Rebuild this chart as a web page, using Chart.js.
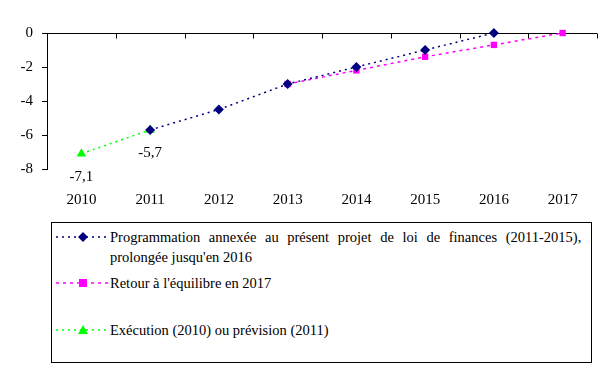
<!DOCTYPE html>
<html>
<head>
<meta charset="utf-8">
<script src="https://cdn.jsdelivr.net/npm/chart.js@4/dist/chart.umd.min.js"></script>
<style>
    body { margin: 0; background: #fff; }
    #wrap { position: relative; width: 616px; height: 374px; }
    #chart { position: absolute; left: 0; top: 0; }
    #legend {
        position: absolute; left: 51px; top: 222px; width: 539px; height: 139px;
        border: 1px solid #000; font-family: 'Times New Roman', Times, 'Liberation Serif', serif;
        font-size: 14.5px; color: #000;
    }
    .item { position: absolute; left: 0; width: 539px; }
    .item svg { position: absolute; left: 4px; }
    .item .label { position: absolute; left: 58px; line-height: 20px; white-space: nowrap; }
    .wide { word-spacing: 5px; }
</style>
</head>
<body>
<div id="wrap">
    <canvas id="chart" width="616" height="215"></canvas>
    <div id="legend"></div>
</div>
<script>
// Categories (years)
const years = ['2010', '2011', '2012', '2013', '2014', '2015', '2016', '2017'];

// Series values (% du PIB)
const programmation = [null, -5.7, -4.5, -3.0, -2.0, -1.0, 0, null];
const retour = [null, null, null, -3.0, -2.2, -1.4, -0.7, 0];
const execution = [-7.1, -5.7, null, null, null, null, null, null];

// Labels shown under the green points
const executionLabels = ['-7,1', '-5,7'];

// Y axis ticks
const yMin = -8;
const yMax = 0;
const yStep = 2;

const serif = "'Times New Roman', Times, 'Liberation Serif', serif";

// Draws the axis line at y = 0 with small ticks pointing down
const zeroAxisPlugin = {
    id: 'zeroAxis',
    beforeDatasetsDraw(chart) {
        const ctx = chart.ctx;
        const x = chart.scales.x;
        const y = chart.scales.y;
        const y0 = Math.round(y.getPixelForValue(0)) + 0.5;
        const step = (x.right - x.left) / years.length;
        ctx.save();
        ctx.strokeStyle = '#000';
        ctx.lineWidth = 1;
        ctx.beginPath();
        ctx.moveTo(x.left, y0);
        ctx.lineTo(x.right, y0);
        for (let i = 1; i <= years.length; i++) {
            const px = Math.round(x.left + i * step) + 0.5;
            ctx.moveTo(px, y0);
            ctx.lineTo(px, y0 + 5);
        }
        ctx.stroke();
        ctx.restore();
    }
};

// Value labels under the execution points
const valueLabelPlugin = {
    id: 'valueLabels',
    afterDatasetsDraw(chart) {
        const ctx = chart.ctx;
        const meta = chart.getDatasetMeta(2);
        ctx.save();
        ctx.font = '15px ' + serif;
        ctx.fillStyle = '#000';
        ctx.textAlign = 'center';
        ctx.textBaseline = 'middle';
        meta.data.slice(0, executionLabels.length).forEach((pt, i) => {
            ctx.fillText(executionLabels[i], pt.x, pt.y + 23);
        });
        ctx.restore();
    }
};

const chart = new Chart(document.getElementById('chart'), {
    type: 'line',
    data: {
        labels: years,
        datasets: [{
            label: "Programmation annexée au présent projet de loi de finances (2011-2015), prolongée jusqu'en 2016",
            data: programmation,
            borderColor: '#000080',
            backgroundColor: '#000080',
            borderWidth: 1.5,
            borderDash: [2, 4],
            pointStyle: 'rectRot',
            pointRadius: 5,
            pointBorderWidth: 0,
            clip: false
        }, {
            label: "Retour à l'équilibre en 2017",
            data: retour,
            borderColor: '#FF00FF',
            backgroundColor: '#FF00FF',
            borderWidth: 1.5,
            borderDash: [3, 4],
            pointStyle: 'rect',
            pointRadius: 4.5,
            pointBorderWidth: 0,
            clip: false
        }, {
            label: 'Exécution (2010) ou prévision (2011)',
            data: execution,
            borderColor: '#00FF00',
            backgroundColor: '#00FF00',
            borderWidth: 1.5,
            borderDash: [2, 4],
            pointStyle: 'triangle',
            pointRadius: 5.5,
            pointBorderWidth: 0,
            clip: false
        }]
    },
    options: {
        responsive: false,
        animation: false,
        spanGaps: false,
        layout: { padding: { top: 33, right: 19, left: 0, bottom: 0 } },
        plugins: {
            legend: { display: false },
            tooltip: { enabled: false }
        },
        scales: {
            x: {
                offset: true,
                grid: { display: false },
                border: { display: false },
                ticks: {
                    color: '#000',
                    font: { family: serif, size: 15 },
                    padding: 14,
                    maxRotation: 0
                },
                afterFit(scale) { scale.height = 46; }
            },
            y: {
                min: yMin,
                max: yMax,
                grid: {
                    drawOnChartArea: false,
                    color: '#000',
                    tickLength: 5
                },
                border: { color: '#000', width: 1 },
                ticks: {
                    stepSize: yStep,
                    color: '#000',
                    font: { family: serif, size: 15 },
                    padding: 9
                },
                afterFit(scale) { scale.width = 47; }
            }
        }
    },
    plugins: [zeroAxisPlugin, valueLabelPlugin]
});

// HTML legend built from the datasets
function buildLegend() {
    const legend = document.getElementById('legend');
    const rows = [
        { top: 4, text: "<span class=\"wide\">Programmation annexée au présent projet de loi de finances (2011-2015),</span><br>prolongée jusqu'en 2016" },
        { top: 50, text: "Retour à l'équilibre en 2017" },
        { top: 97, text: 'Exécution (2010) ou prévision (2011)' }
    ];
    chart.data.datasets.forEach((ds, i) => {
        const row = document.createElement('div');
        row.className = 'item';
        row.style.top = rows[i].top + 'px';
        let marker;
        if (ds.pointStyle === 'rectRot') {
            marker = `<polygon points="27,5 32,10 27,15 22,10" fill="${ds.borderColor}"/>`;
        } else if (ds.pointStyle === 'rect') {
            marker = `<rect x="23" y="6" width="8" height="8" fill="${ds.borderColor}"/>`;
        } else {
            marker = `<polygon points="27,5 32,14 22,14" fill="${ds.borderColor}"/>`;
        }
        row.innerHTML = `
            <svg width="52" height="20">
                <line x1="0" y1="10" x2="52" y2="10" stroke="${ds.borderColor}" stroke-width="1.5" stroke-dasharray="${ds.borderDash.join(' ')}"/>
                ${marker}
            </svg>
            <div class="label">${rows[i].text}</div>
        `;
        legend.appendChild(row);
    });
}

buildLegend();
</script>
</body>
</html>
